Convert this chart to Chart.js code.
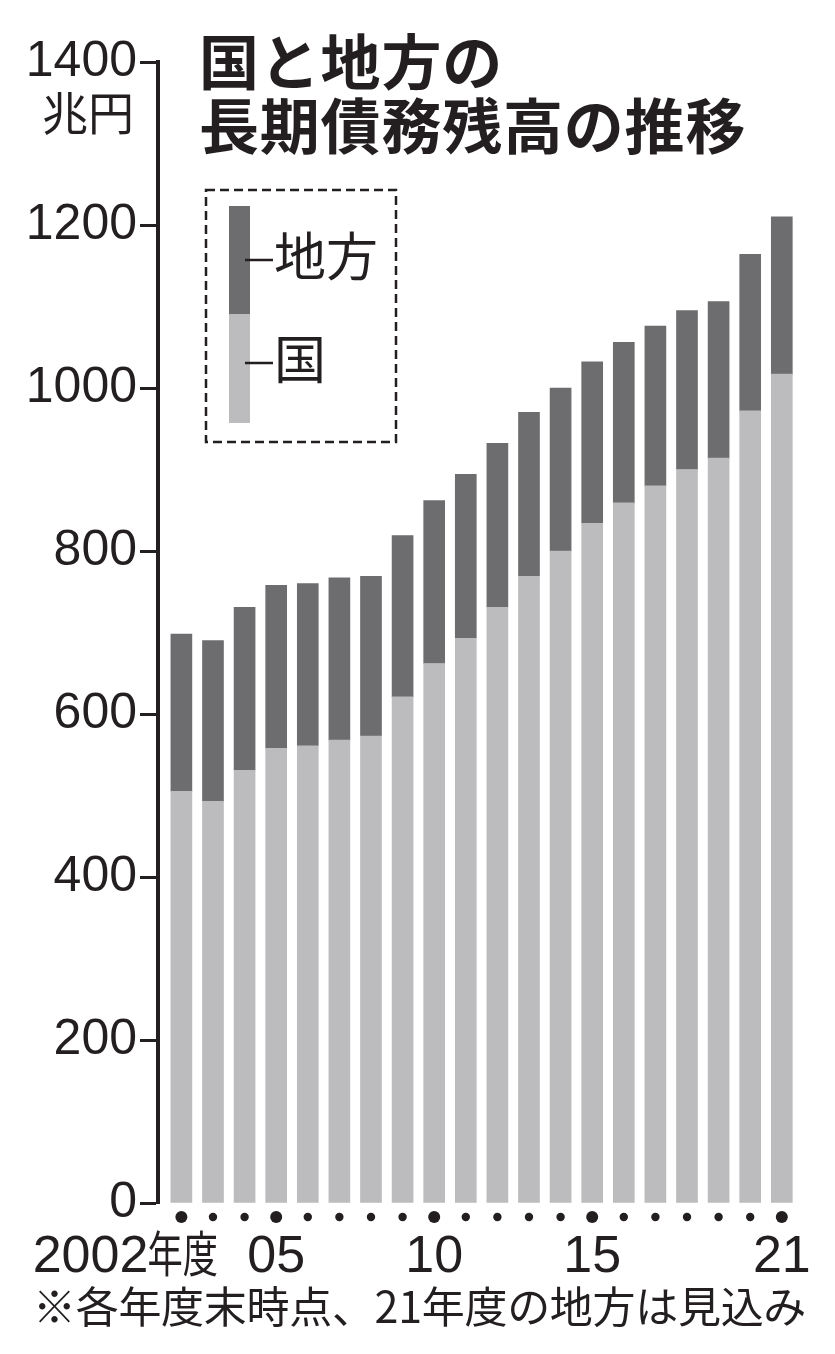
<!DOCTYPE html>
<html>
<head>
<meta charset="utf-8">
<script src="https://cdn.jsdelivr.net/npm/chart.js@4.4.1/dist/chart.umd.min.js"></script>
<style>
  html, body { margin: 0; padding: 0; background: #fff; }
  #wrap { position: relative; width: 835px; height: 1354px; overflow: hidden; background: #fff; }
  #wrap canvas { position: absolute; left: 0; top: 0; }
  .t { position: absolute; color: #231f20; white-space: nowrap; font-family: "Noto Sans CJK JP", "Noto Sans CJK SC", sans-serif; }
  #title { left: 199px; top: 27px; font-size: 60px; line-height: 63.5px; font-weight: 700; letter-spacing: 0.8px; }
  #unit { right: 701px; top: 87px; font-size: 46px; line-height: 46px; }
  .lg { font-size: 52px; line-height: 52px; left: 274px; }
  #lgLocal { top: 228px; }
  #lgNat { top: 331px; }
  #note { left: 33px; top: 1283px; font-size: 43px; line-height: 43px; letter-spacing: -0.3px; }
</style>
</head>
<body>
<div id="wrap">
  <canvas id="c" width="835" height="1354"></canvas>
  <div class="t" id="title">国と地方の<br>長期債務残高の推移</div>
  <div class="t" id="unit">兆円</div>
  <div class="t lg" id="lgLocal"></div>
  <div class="t lg" id="lgNat"></div>
  <div class="t" id="note">※各年度末時点、21年度の地方は見込み</div>
</div>
<script>
// ---- data ----
const years = ['2002','2003','2004','2005','2006','2007','2008','2009','2010','2011',
               '2012','2013','2014','2015','2016','2017','2018','2019','2020','2021'];
const nationalDebt = [505, 493, 531, 558, 561, 568, 573, 621, 662, 693,
                      731, 769, 800, 834, 859, 880, 900, 914, 972, 1017];
const localDebt    = [193, 197, 200, 200, 199, 199, 196, 198, 200, 201,
                      201, 201, 200, 198, 197, 196, 195, 192, 192, 193];
const xTickLabels  = ['2002年度','','','05','','','','','10','',
                      '','','','15','','','','','','21'];
const yTicks = [0, 200, 400, 600, 800, 1000, 1200, 1400];
const seriesNames = ['国', '地方'];

// ---- style ----
const INK = '#231f20';
const LIGHT = '#bcbbbd';
const DARK = '#6d6c6f';
const NUM_FONT = '"Liberation Sans", Arial, sans-serif';
const CJK_FONT = '"Noto Sans CJK JP", "Noto Sans CJK SC", sans-serif';

document.getElementById('lgNat').textContent = seriesNames[0];
document.getElementById('lgLocal').textContent = seriesNames[1];

const decoPlugin = {
  id: 'deco',
  afterDraw(chart) {
    const ctx = chart.ctx;
    const xs = chart.scales.x;
    const area = chart.chartArea;
    ctx.save();
    // axis dots & labels
    ctx.fillStyle = INK;
    years.forEach((yr, i) => {
      const px = xs.getPixelForValue(+yr);
      const major = xTickLabels[i] !== '';
      ctx.beginPath();
      ctx.arc(px, area.bottom + 14, major ? 6 : 4.2, 0, Math.PI * 2);
      ctx.fill();
      const lab = xTickLabels[i];
      if (!lab) return;
      const m = lab.match(/^(\d+)(.*)$/);
      const baseY = area.bottom + 69;
      ctx.textBaseline = 'alphabetic';
      if (m && m[2]) {
        const split = px - 34;
        ctx.font = '52px ' + NUM_FONT;
        ctx.textAlign = 'right';
        ctx.fillText(m[1], split + 1, baseY);
        ctx.save();
        ctx.translate(split, baseY);
        ctx.scale(0.72, 1);
        ctx.font = '49px ' + CJK_FONT;
        ctx.textAlign = 'left';
        ctx.fillText(m[2], 0, 0);
        ctx.restore();
      } else {
        ctx.font = '52px ' + NUM_FONT;
        ctx.textAlign = 'center';
        ctx.fillText(lab, px, baseY);
      }
    });
    // legend box
    const ds = chart.data.datasets;
    ctx.strokeStyle = INK;
    ctx.lineWidth = 2.5;
    ctx.setLineDash([9, 5]);
    ctx.strokeRect(206, 190, 190, 252);
    ctx.setLineDash([]);
    ctx.fillStyle = ds[1].backgroundColor;
    ctx.fillRect(229, 206, 21, 108);
    ctx.fillStyle = ds[0].backgroundColor;
    ctx.fillRect(229, 314, 21, 109);
    ctx.lineWidth = 2.5;
    ctx.beginPath();
    ctx.moveTo(245, 260); ctx.lineTo(273, 260);
    ctx.moveTo(245, 363); ctx.lineTo(273, 363);
    ctx.stroke();
    ctx.restore();
  }
};

new Chart(document.getElementById('c'), {
  type: 'bar',
  data: {
    datasets: [
      { label: seriesNames[0], data: years.map((y, i) => ({ x: +y, y: nationalDebt[i] })),
        backgroundColor: LIGHT, borderWidth: 0, barThickness: 21 },
      { label: seriesNames[1], data: years.map((y, i) => ({ x: +y, y: localDebt[i] })),
        backgroundColor: DARK, borderWidth: 0, barThickness: 21 }
    ]
  },
  options: {
    responsive: false,
    animation: false,
    devicePixelRatio: 1,
    layout: { padding: { top: 62, bottom: 151, left: 0, right: 37.4 } },
    plugins: { legend: { display: false }, tooltip: { enabled: false }, title: { display: false } },
    scales: {
      x: {
        type: 'linear',
        stacked: true,
        display: false,
        offset: false,
        min: 2001.26,
        max: 2021.5
      },
      y: {
        stacked: true,
        min: 0,
        max: 1400,
        afterBuildTicks: (scale) => { scale.ticks = yTicks.map(v => ({ value: v })); },
        afterFit: (scale) => { scale.width = 158; },
        border: { display: true, color: INK, width: 4 },
        grid: { drawOnChartArea: false, drawTicks: true, tickLength: 18, tickWidth: 3, tickColor: INK, color: INK },
        ticks: {
          color: INK,
          padding: 3,
          font: { family: NUM_FONT, size: 50 },
          callback: (v) => String(v)
        }
      }
    }
  },
  plugins: [decoPlugin]
});
</script>
</body>
</html>
